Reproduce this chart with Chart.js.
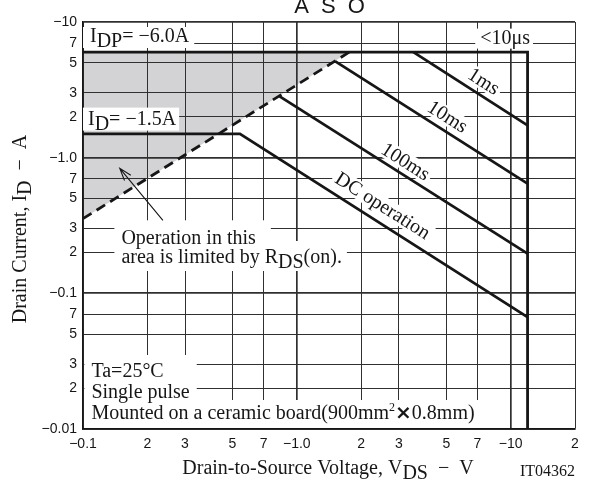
<!DOCTYPE html>
<html>
<head>
<meta charset="utf-8">
<script src="https://cdn.jsdelivr.net/npm/chart.js@4.4.1/dist/chart.umd.min.js"></script>
<style>
  html, body { margin: 0; padding: 0; background: #fff; }
  #wrap { width: 605px; height: 483px; position: relative; }
</style>
</head>
<body>
<div id="wrap"><canvas id="myChart"></canvas></div>
<script>
// axis ticks (absolute values on the log scales, labels carry the sign)
const xTickValues = [0.1, 0.2, 0.3, 0.5, 0.7, 1, 2, 3, 5, 7, 10, 20];
const xTickLabels = ["−0.1", "2", "3", "5", "7", "−1.0", "2", "3", "5", "7", "−10", "2"];
const yTickValues = [0.01, 0.02, 0.03, 0.05, 0.07, 0.1, 0.2, 0.3, 0.5, 0.7, 1, 2, 3, 5, 7, 10];
const yTickLabels = ["−0.01", "2", "3", "5", "7", "−0.1", "2", "3", "5", "7", "−1.0", "2", "3", "5", "7", "−10"];

// curves: x = |VDS| (V), y = |ID| (A)
const rdsLimit = [{ x: 0.1, y: 0.355 }, { x: 1.76, y: 6 }];
const pulse10us = [{ x: 0.1, y: 6 }, { x: 12, y: 6 }, { x: 12, y: 0.01 }];
const pulse1ms = [{ x: 3.51, y: 6 }, { x: 12, y: 1.73 }];
const pulse10ms = [{ x: 1.514, y: 5.13 }, { x: 12, y: 0.643 }];
const pulse100ms = [{ x: 0.831, y: 2.83 }, { x: 12, y: 0.196 }];
const dcOperation = [{ x: 0.1, y: 1.5 }, { x: 0.542, y: 1.5 }, { x: 12, y: 0.0668 }];

// curve names and where they sit (data coords)
const curveNames = ["1ms", "10ms", "100ms", "DC operation"];
const curveNameX = [7.45, 5.05, 3.21, 2.51];
const curveNameY = [3.61, 1.98, 0.923, 0.438];

const serif = '"Liberation Serif", "Times New Roman", serif';
const sans = '"Liberation Sans", Arial, sans-serif';
const ink = "#161616";

function segFont(s, size) {
  if (s[1] === "sup") return Math.round(size * 0.6) + "px " + serif;
  if (s[1] === "x") return "bold " + size + 'px "DejaVu Sans", sans-serif';
  return size + "px " + serif;
}

function measure(ctx, segs, size) {
  let w = 0;
  segs.forEach((s) => {
    ctx.font = segFont(s, size);
    w += ctx.measureText(s[0]).width;
  });
  return w;
}

function drawSegs(ctx, segs, x, y, size) {
  ctx.textAlign = "left";
  ctx.textBaseline = "alphabetic";
  segs.forEach((s) => {
    ctx.font = segFont(s, size);
    const dy = s[1] === "sub" ? size * 0.25 : s[1] === "sup" ? -size * 0.38 : 0;
    ctx.fillText(s[0], x, y + dy);
    x += ctx.measureText(s[0]).width;
  });
}

// text blocks inside the plot, placed relative to the chart area
function noteBlocks(ca) {
  return [
    { x: ca.left + 7, lines: [[["I"], ["DP", "sub"], ["= −6.0A"]]], base: [ca.top + 20], padL: 7, padR: 5, up: 15, down: 6 },
    { x: ca.left + 5, lines: [[["I"], ["D", "sub"], ["= −1.5A"]]], base: [ca.top + 102.6], padL: 5, padR: 3, up: 17, down: 6 },
    { x: ca.right - 45, align: "right", lines: [[["<10μs"]]], base: [ca.top + 21.6], padL: 5, padR: 3, up: 15, down: 5 },
    { x: ca.left + 38.4, lines: [[["Operation in this"]]], base: [ca.top + 222.3], padL: 7, padR: 15, up: 24, down: 3 },
    { x: ca.left + 38.4, lines: [[["area is limited by R"], ["DS", "sub"], ["(on)."]]], base: [ca.top + 241], padL: 7, padR: 5, up: 22, down: 8 },
    { x: ca.left + 8.4, shared: true, lines: [[["Ta=25°C"]], [["Single pulse"]]], base: [ca.bottom - 52, ca.bottom - 31], padL: 7, padR: 7, up: 22, down: 6 },
    { x: ca.left + 8.4, lines: [[["Mounted on a ceramic board(900mm"], ["2", "sup"], ["×", "x"], ["0.8mm)"]]], base: [ca.bottom - 10], padL: 7, padR: 5, up: 19, down: 9 },
  ];
}

const asoNotes = {
  id: "asoNotes",
  beforeDatasetsDraw(chart) {
    const ctx = chart.ctx;
    const ca = chart.chartArea;
    const xs = chart.scales.x;
    const ys = chart.scales.y;
    ctx.save();
    ctx.fillStyle = "#fff";
    noteBlocks(ca).forEach((b) => {
      const widths = b.lines.map((l) => measure(ctx, l, 20));
      const maxW = Math.max(...widths);
      b.lines.forEach((l, i) => {
        const w = b.shared ? maxW : widths[i];
        const left = b.align === "right" ? b.x - widths[i] : b.x;
        ctx.fillRect(left - b.padL, b.base[i] - b.up, w + b.padL + b.padR, b.up + b.down);
      });
    });
    // white backing under the rotated curve names
    const ang = curveAngle(chart);
    curveNames.forEach((t, i) => {
      const px = xs.getPixelForValue(curveNameX[i]);
      const py = ys.getPixelForValue(curveNameY[i]);
      ctx.save();
      ctx.translate(px, py);
      ctx.rotate(ang);
      ctx.font = "20px " + serif;
      const w = ctx.measureText(t).width;
      ctx.fillRect(-w / 2 - 3, -10, w + 6, 18);
      ctx.restore();
    });
    ctx.restore();
  },
  afterDatasetsDraw(chart) {
    const ctx = chart.ctx;
    const ca = chart.chartArea;
    const xs = chart.scales.x;
    const ys = chart.scales.y;
    ctx.save();
    ctx.fillStyle = ink;
    ctx.strokeStyle = ink;

    noteBlocks(ca).forEach((b) => {
      b.lines.forEach((l, i) => {
        const w = measure(ctx, l, 20);
        const left = b.align === "right" ? b.x - w : b.x;
        drawSegs(ctx, l, left, b.base[i], 20);
      });
    });

    // curve names along the slopes
    const ang = curveAngle(chart);
    curveNames.forEach((t, i) => {
      ctx.save();
      ctx.translate(xs.getPixelForValue(curveNameX[i]), ys.getPixelForValue(curveNameY[i]));
      ctx.rotate(ang);
      ctx.font = "20px " + serif;
      ctx.textAlign = "center";
      ctx.textBaseline = "middle";
      ctx.fillText(t, 0, 0);
      ctx.restore();
    });

    // arrow pointing into the shaded area
    const tx = xs.getPixelForValue(0.1486), ty = ys.getPixelForValue(0.834);
    const fx = xs.getPixelForValue(0.2364), fy = ys.getPixelForValue(0.345);
    const a = Math.atan2(ty - fy, tx - fx);
    ctx.lineWidth = 1.1;
    ctx.beginPath();
    ctx.moveTo(fx, fy);
    ctx.lineTo(tx, ty);
    ctx.moveTo(tx - 13 * Math.cos(a - 0.32), ty - 13 * Math.sin(a - 0.32));
    ctx.lineTo(tx, ty);
    ctx.lineTo(tx - 13 * Math.cos(a + 0.32), ty - 13 * Math.sin(a + 0.32));
    ctx.stroke();

    // title
    ctx.font = "22px " + sans;
    ctx.textAlign = "center";
    ctx.textBaseline = "alphabetic";
    if ("letterSpacing" in ctx) ctx.letterSpacing = "3px";
    ctx.fillText("A S O", (ca.left + ca.right) / 2 + 2, 13);
    if ("letterSpacing" in ctx) ctx.letterSpacing = "0px";

    // x axis title
    const xt = [["Drain-to-Source Voltage, V"], ["DS", "sub"], ["  −  V"]];
    const xw = measure(ctx, xt, 20);
    drawSegs(ctx, xt, 328 - xw / 2, 474, 20);

    // y axis title
    const yt = [["Drain Current, I"], ["D", "sub"], ["  −  A"]];
    const yw = measure(ctx, yt, 20);
    ctx.save();
    ctx.translate(26, 229);
    ctx.rotate(-Math.PI / 2);
    drawSegs(ctx, yt, -yw / 2, 0, 20);
    ctx.restore();

    // drawing number
    ctx.font = "16px " + serif;
    ctx.textAlign = "right";
    ctx.fillText("IT04362", ca.right, 476);
    ctx.restore();
  },
};

function curveAngle(chart) {
  const xs = chart.scales.x;
  const ys = chart.scales.y;
  const dx = xs.getPixelForValue(10) - xs.getPixelForValue(1);
  const dy = ys.getPixelForValue(0.1) - ys.getPixelForValue(1);
  return Math.atan2(dy, dx);
}

function isDecade(v) {
  const l = Math.log10(v);
  return Math.abs(l - Math.round(l)) < 1e-6;
}

const gridOpts = {
  drawTicks: false,
  color: "#303030",
  lineWidth: (c) => (c.tick && isDecade(c.tick.value) ? 1.7 : 1),
};

function line(data, extra) {
  return Object.assign(
    {
      data: data,
      borderColor: ink,
      borderWidth: 2.8,
      pointRadius: 0,
      tension: 0,
      fill: false,
      borderJoinStyle: "miter",
    },
    extra || {},
  );
}

const ctx = document.getElementById("myChart").getContext("2d");
const myChart = new Chart(ctx, {
  type: "line",
  data: {
    datasets: [
      line(rdsLimit, { borderDash: [10, 6], fill: { value: 6 }, backgroundColor: "#d3d3d5" }),
      line(pulse10us),
      line(pulse1ms),
      line(pulse10ms),
      line(pulse100ms),
      line(dcOperation),
    ],
  },
  options: {
    responsive: true,
    maintainAspectRatio: false,
    animation: false,
    layout: { padding: { top: 22, right: 30, left: 0, bottom: 0 } },
    plugins: {
      legend: { display: false },
      tooltip: { enabled: false },
      filler: { drawTime: "beforeDraw" },
    },
    scales: {
      x: {
        type: "logarithmic",
        min: 0.1,
        max: 20,
        afterBuildTicks: (axis) => {
          axis.ticks = xTickValues.map((v) => ({ value: v }));
        },
        afterFit: (axis) => {
          axis.height = 54;
        },
        ticks: {
          autoSkip: false,
          maxRotation: 0,
          padding: 7,
          color: ink,
          font: { family: "Liberation Sans", size: 14 },
          callback: (v, i) => xTickLabels[i],
        },
        grid: gridOpts,
        border: { display: true, color: ink, width: 1.8 },
      },
      y: {
        type: "logarithmic",
        min: 0.01,
        max: 10,
        afterBuildTicks: (axis) => {
          axis.ticks = yTickValues.map((v) => ({ value: v }));
        },
        afterFit: (axis) => {
          axis.width = 83;
        },
        ticks: {
          autoSkip: false,
          padding: 6,
          color: ink,
          font: { family: "Liberation Sans", size: 14 },
          callback: (v, i) => yTickLabels[i],
        },
        grid: gridOpts,
        border: { display: true, color: ink, width: 1.8 },
      },
    },
  },
  plugins: [asoNotes],
});
</script>
</body>
</html>
